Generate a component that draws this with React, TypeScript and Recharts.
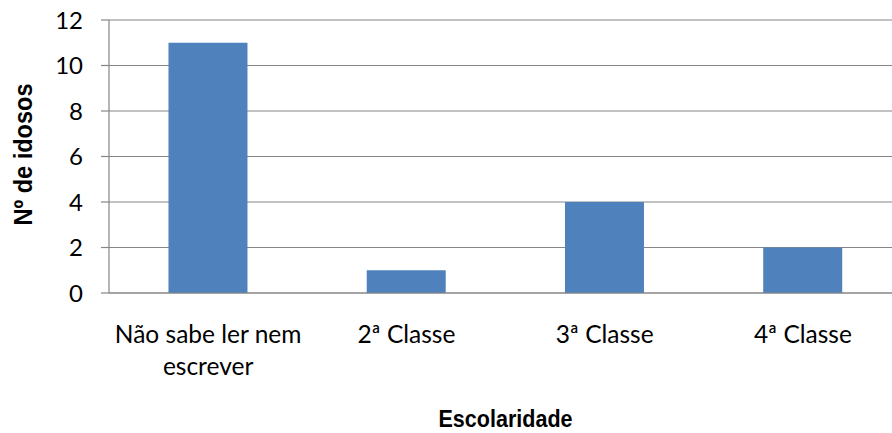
import React from "react";
import { BarChart, Bar, XAxis, YAxis, CartesianGrid, Label } from "recharts";

const categories = ["Não sabe ler nem escrever", "2ª Classe", "3ª Classe", "4ª Classe"];
const values = [11, 1, 4, 2];
const yTicks = [0, 2, 4, 6, 8, 10, 12];
const tickLines = [["Não sabe ler nem", "escrever"], ["2ª Classe"], ["3ª Classe"], ["4ª Classe"]];

const data = categories.map((c, i) => ({ name: c, value: values[i] }));

const TICK_FONT = "Lato, 'Open Sans', sans-serif";
const TITLE_FONT = "'Liberation Sans', Arial, sans-serif";
const GRID = "#868686";

const XTick = (props: any) => {
  const { x, y, index } = props;
  const lines = tickLines[index] || [String(props.payload?.value)];
  return (
    <text x={x} y={y} textAnchor="middle" fill="#000" fontFamily={TICK_FONT} fontSize={24.5}>
      {lines.map((l, i) => (
        <tspan key={i} x={x} dy={i === 0 ? 50 : 32}>
          {l}
        </tspan>
      ))}
    </text>
  );
};

export default function App() {
  return (
    <div style={{ position: "absolute", left: 0, top: 0, width: 892, height: 433, overflow: "hidden", background: "#fff" }}>
      <BarChart
        width={910}
        height={433}
        data={data}
        margin={{ top: 20, right: 8, left: 0, bottom: 0 }}
        barCategoryGap="30%"
      >
        <CartesianGrid vertical={false} stroke={GRID} strokeWidth={1.2} />
        <XAxis
          dataKey="name"
          height={140}
          axisLine={{ stroke: GRID, strokeWidth: 1.2 }}
          tickLine={false}
          tickSize={0}
          tickMargin={0}
          interval={0}
          tick={<XTick />}
        >
          <Label
            value="Escolaridade"
            position="insideBottom"
            offset={6}
            fill="#000"
            fontFamily={TITLE_FONT}
            fontWeight="bold"
            fontSize={24}
            textLength={134}
            lengthAdjust="spacingAndGlyphs"
          />
        </XAxis>
        <YAxis
          width={109}
          domain={[0, 12]}
          ticks={yTicks}
          interval={0}
          axisLine={{ stroke: GRID, strokeWidth: 1.2 }}
          tickLine={{ stroke: GRID, strokeWidth: 1.2 }}
          tickSize={8}
          tickMargin={18}
          tick={{ fill: "#000", fontFamily: TICK_FONT, fontSize: 24 }}
        >
          <Label
            value="Nº de idosos"
            position="center"
            angle={-90}
            dx={-32}
            dy={-2}
            fill="#000"
            fontFamily={TITLE_FONT}
            fontWeight="bold"
            fontSize={26}
            textLength={142}
            lengthAdjust="spacingAndGlyphs"
          />
        </YAxis>
        <Bar dataKey="value" fill="#4F81BD" isAnimationActive={false} />
      </BarChart>
    </div>
  );
}
